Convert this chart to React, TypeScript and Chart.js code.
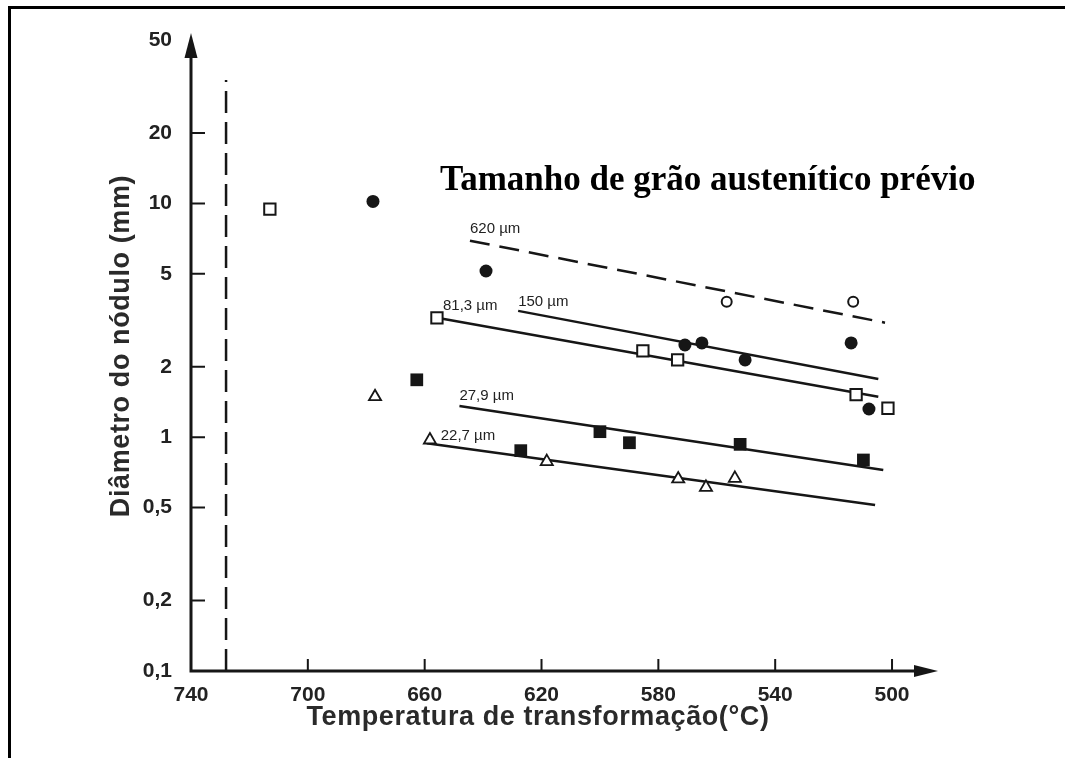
import React, { useEffect, useRef } from 'react';
import { Chart, registerables } from 'chart.js';

Chart.register(...registerables);

// ---- Axis ticks ----
const xTickValues = [740, 700, 660, 620, 580, 540, 500];
const yTickValues = [0.1, 0.2, 0.5, 1, 2, 5, 10, 20, 50];
const yTickLabels = ['0,1', '0,2', '0,5', '1', '2', '5', '10', '20', '50'];

// ---- Texts ----
const chartTitle = 'Tamanho de grão austenítico prévio';
const xTitle = 'Temperatura de transformação(°C)';
const yTitle = 'Diâmetro do nódulo (mm)';

// ---- Marker series (temperature °C, diameter mm) ----
const openSquareTemps = [713.0, 655.8, 585.3, 573.4, 512.3, 501.4];
const openSquareDiams = [9.46, 3.24, 2.34, 2.14, 1.52, 1.33];

const filledCircleTemps = [677.7, 639.0, 570.9, 565.1, 550.3, 514.0, 507.9];
const filledCircleDiams = [10.2, 5.14, 2.48, 2.53, 2.14, 2.53, 1.32];

const openCircleTemps = [556.6, 513.3];
const openCircleDiams = [3.8, 3.8];

const filledSquareTemps = [662.7, 627.1, 600.0, 589.9, 552.0, 509.8];
const filledSquareDiams = [1.76, 0.876, 1.056, 0.947, 0.932, 0.799];

const triangleTemps = [677.0, 658.2, 618.2, 573.2, 563.7, 553.8];
const triangleDiams = [1.49, 0.973, 0.786, 0.663, 0.61, 0.667];

// ---- Trend lines (start / end) ----
const lineLabels = ['620 µm', '150 µm', '81,3 µm', '27,9 µm', '22,7 µm'];
const lineStartTemps = [644.5, 628.0, 655.8, 648.1, 659.3];
const lineStartDiams = [6.93, 3.47, 3.24, 1.36, 0.942];
const lineEndTemps = [502.4, 504.7, 504.7, 503.0, 505.8];
const lineEndDiams = [3.09, 1.775, 1.49, 0.724, 0.513];
const lineDashed = [true, false, false, false, false];

// ---- Vertical dashed reference line ----
const refLineTemp = 728;
const refLineDiams = [0.1, 33.7];

// label offsets (px) relative to each line's start point
const lineLabelOffsets = [
  [0, -12],
  [0, -9],
  [6, -12],
  [0, -10],
  [14, -7],
];

const INK = '#161616';

const pts = (xs: number[], ys: number[]) => xs.map((x, i) => ({ x, y: ys[i] }));

const overlayPlugin = {
  id: 'overlay',
  beforeDraw(chart: any) {
    const ctx = chart.ctx;
    ctx.save();
    ctx.fillStyle = '#ffffff';
    ctx.fillRect(0, 0, chart.width, chart.height);
    ctx.restore();
  },
  afterDraw(chart: any) {
    const ctx = chart.ctx;
    const ca = chart.chartArea;
    const xs = chart.scales.x;
    const ys = chart.scales.y;
    ctx.save();

    // page frame (top and left)
    ctx.fillStyle = '#000';
    ctx.fillRect(8, 6, chart.width - 8, 3);
    ctx.fillRect(8, 6, 3, chart.height - 6);

    // axes lines
    ctx.strokeStyle = INK;
    ctx.lineWidth = 3;
    ctx.lineCap = 'butt';
    ctx.beginPath();
    ctx.moveTo(ca.left, ca.bottom + 1.5);
    ctx.lineTo(ca.left, ca.top + 10);
    ctx.moveTo(ca.left - 1.5, ca.bottom);
    ctx.lineTo(ca.right - 5, ca.bottom);
    ctx.stroke();

    // arrowheads
    ctx.fillStyle = INK;
    ctx.beginPath();
    ctx.moveTo(ca.left, ca.top - 7);
    ctx.lineTo(ca.left - 6.5, ca.top + 18);
    ctx.lineTo(ca.left + 6.5, ca.top + 18);
    ctx.closePath();
    ctx.fill();
    ctx.beginPath();
    ctx.moveTo(ca.right + 8, ca.bottom);
    ctx.lineTo(ca.right - 16, ca.bottom - 6);
    ctx.lineTo(ca.right - 16, ca.bottom + 6);
    ctx.closePath();
    ctx.fill();

    // inner tick marks
    ctx.lineWidth = 2;
    ctx.beginPath();
    ys.ticks.forEach((t: any) => {
      if (t.value <= yTickValues[0] || t.value >= yTickValues[yTickValues.length - 1]) return;
      const py = ys.getPixelForValue(t.value);
      ctx.moveTo(ca.left, py);
      ctx.lineTo(ca.left + 14, py);
    });
    xs.ticks.forEach((t: any) => {
      if (t.value >= xTickValues[0]) return;
      const px = xs.getPixelForValue(t.value);
      ctx.moveTo(px, ca.bottom);
      ctx.lineTo(px, ca.bottom - 12);
    });
    ctx.stroke();

    // trend line labels
    ctx.fillStyle = '#222';
    ctx.font = '15px "Liberation Sans", Arial, sans-serif';
    ctx.textAlign = 'left';
    ctx.textBaseline = 'middle';
    lineLabels.forEach((lab, i) => {
      const meta = chart.getDatasetMeta(i);
      const p = meta.data[0];
      if (!p) return;
      ctx.fillText(lab, p.x + lineLabelOffsets[i][0], p.y + lineLabelOffsets[i][1]);
    });

    // chart title (inside plot)
    ctx.fillStyle = '#000';
    ctx.font = 'bold 35px "Liberation Serif", "Times New Roman", serif';
    ctx.textAlign = 'left';
    ctx.textBaseline = 'alphabetic';
    ctx.fillText(chartTitle, 440, 190);

    // axis titles
    ctx.fillStyle = '#2a2a2a';
    ctx.font = 'bold 27px "Liberation Sans", Arial, sans-serif';
    try { (ctx as any).letterSpacing = '0.6px'; } catch (e) { /* ignore */ }
    ctx.textAlign = 'center';
    ctx.textBaseline = 'middle';
    ctx.fillText(xTitle, 538, 718);
    ctx.save();
    ctx.translate(122, 346);
    ctx.rotate(-Math.PI / 2);
    ctx.fillText(yTitle, 0, 0);
    ctx.restore();
    try { (ctx as any).letterSpacing = '0px'; } catch (e) { /* ignore */ }

    ctx.restore();
  },
};

export default function App() {
  const canvasRef = useRef<HTMLCanvasElement | null>(null);

  useEffect(() => {
    const canvas = canvasRef.current;
    if (!canvas) return;

    const lineSets = lineLabels.map((lab, i) => ({
      label: lab,
      data: [
        { x: lineStartTemps[i], y: lineStartDiams[i] },
        { x: lineEndTemps[i], y: lineEndDiams[i] },
      ],
      showLine: true,
      borderColor: INK,
      borderWidth: 2.5,
      borderDash: lineDashed[i] ? [20, 10] : [],
      pointRadius: 0,
      order: 2,
    }));

    const chart = new Chart(canvas, {
      type: 'scatter',
      data: {
        datasets: [
          ...lineSets,
          {
            label: 'ref',
            data: refLineDiams.map((d) => ({ x: refLineTemp, y: d })),
            showLine: true,
            borderColor: INK,
            borderWidth: 2.5,
            borderDash: [22, 9],
            pointRadius: 0,
            order: 2,
          },
          {
            label: 'open squares',
            data: pts(openSquareTemps, openSquareDiams),
            pointStyle: 'rect',
            pointRadius: 8,
            pointBorderWidth: 2,
            pointBorderColor: INK,
            pointBackgroundColor: '#fff',
            order: 1,
          },
          {
            label: 'filled circles',
            data: pts(filledCircleTemps, filledCircleDiams),
            pointStyle: 'circle',
            pointRadius: 6.5,
            pointBorderWidth: 0,
            pointBackgroundColor: INK,
            pointBorderColor: INK,
            order: 1,
          },
          {
            label: 'open circles',
            data: pts(openCircleTemps, openCircleDiams),
            pointStyle: 'circle',
            pointRadius: 5,
            pointBorderWidth: 2,
            pointBorderColor: INK,
            pointBackgroundColor: '#fff',
            order: 1,
          },
          {
            label: 'filled squares',
            data: pts(filledSquareTemps, filledSquareDiams),
            pointStyle: 'rect',
            pointRadius: 9,
            pointBorderWidth: 0,
            pointBackgroundColor: INK,
            pointBorderColor: INK,
            order: 1,
          },
          {
            label: 'triangles',
            data: pts(triangleTemps, triangleDiams),
            pointStyle: 'triangle',
            pointRadius: 7,
            pointBorderWidth: 1.8,
            pointBorderColor: INK,
            pointBackgroundColor: '#fff',
            order: 1,
          },
        ],
      },
      options: {
        responsive: false,
        animation: false,
        events: [],
        layout: { padding: { top: 40, right: 135, left: 0, bottom: 0 } },
        plugins: {
          legend: { display: false },
          tooltip: { enabled: false },
          title: { display: false },
        },
        scales: {
          x: {
            type: 'linear',
            reverse: true,
            min: 487,
            max: 740,
            afterBuildTicks: (scale: any) => {
              scale.ticks = xTickValues.map((v) => ({ value: v }));
            },
            afterFit: (scale: any) => {
              scale.height = 87;
            },
            grid: { display: false, drawTicks: false },
            border: { display: false },
            ticks: {
              padding: 12,
              maxRotation: 0,
              autoSkip: false,
              color: '#222',
              font: { family: '"Liberation Sans", Arial, sans-serif', size: 21, weight: 'bold' },
              callback: (v: any) => String(v),
            },
          },
          y: {
            type: 'logarithmic',
            min: 0.1,
            max: 50,
            afterBuildTicks: (scale: any) => {
              scale.ticks = yTickValues.map((v) => ({ value: v }));
            },
            afterFit: (scale: any) => {
              scale.width = 191;
            },
            grid: { display: false, drawTicks: false },
            border: { display: false },
            ticks: {
              padding: 19,
              autoSkip: false,
              color: '#222',
              font: { family: '"Liberation Sans", Arial, sans-serif', size: 21, weight: 'bold' },
              callback: (_v: any, i: number) => yTickLabels[i],
            },
          },
        },
      },
      plugins: [overlayPlugin],
    } as any);

    return () => chart.destroy();
  }, []);

  return (
    <div style={{ position: 'absolute', left: 0, top: 0, width: 1065, height: 758, background: '#fff' }}>
      <canvas ref={canvasRef} width={1065} height={758} style={{ display: 'block' }} />
    </div>
  );
}
